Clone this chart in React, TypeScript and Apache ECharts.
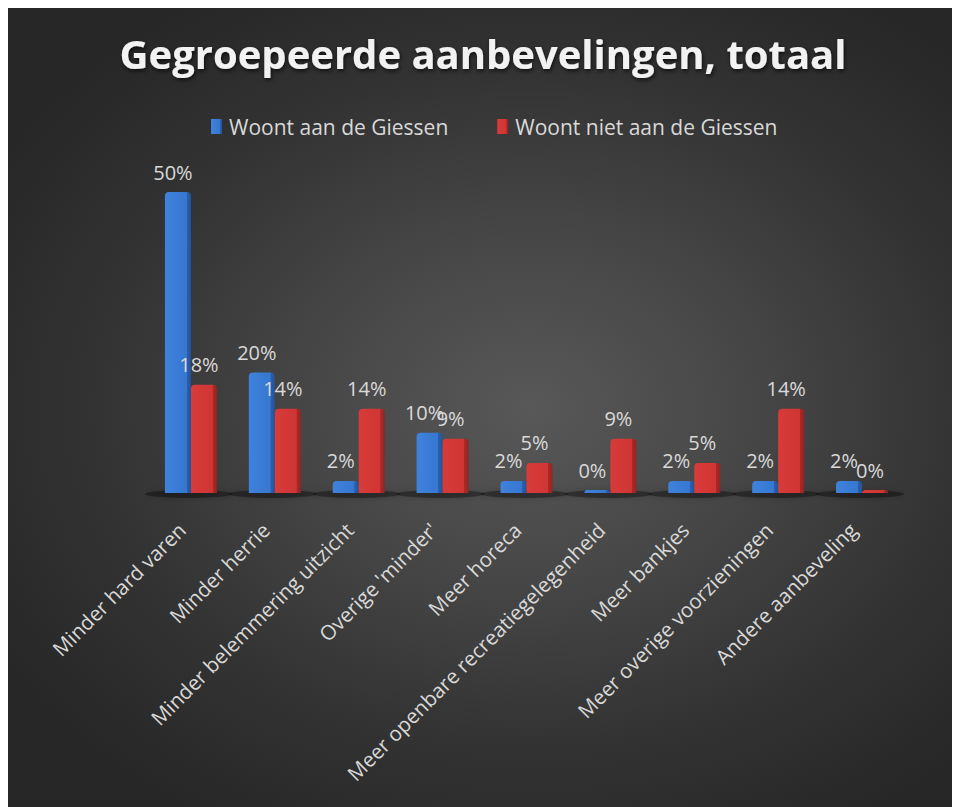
import React, { useEffect, useRef } from "react";
import * as echarts from "echarts";

const titleText = "Gegroepeerde aanbevelingen, totaal";
const seriesNames = ["Woont aan de Giessen", "Woont niet aan de Giessen"];
const categories = [
  "Minder hard varen",
  "Minder herrie",
  "Minder belemmering uitzicht",
  "Overige 'minder'",
  "Meer horeca",
  "Meer openbare recreatiegelegenheid",
  "Meer bankjes",
  "Meer overige voorzieningen",
  "Andere aanbeveling",
];
const woontAan = [50, 20, 2, 10, 2, 0, 2, 2, 2];
const woontNiet = [18, 14, 14, 9, 5, 9, 5, 14, 0];

const blueGrad = new echarts.graphic.LinearGradient(0, 0, 1, 0, [
  { offset: 0, color: "#3f82dc" },
  { offset: 0.83, color: "#3677d0" },
  { offset: 0.84, color: "#2a60ad" },
  { offset: 1, color: "#24539a" },
]);
const redGrad = new echarts.graphic.LinearGradient(0, 0, 1, 0, [
  { offset: 0, color: "#d83c3a" },
  { offset: 0.83, color: "#cf3533" },
  { offset: 0.84, color: "#a82a28" },
  { offset: 1, color: "#952322" },
]);

export default function App() {
  const ref = useRef<HTMLDivElement>(null);
  useEffect(() => {
    if (!ref.current) return;
    const chart = echarts.init(ref.current, undefined, { renderer: "svg" });
    const font = "'Open Sans', 'Noto Sans', sans-serif";
    chart.setOption({
      animation: false,
      backgroundColor: "transparent",
      title: {
        text: titleText,
        left: "center",
        top: 20,
        textStyle: {
          color: "#f2f2f2",
          fontSize: 40,
          fontWeight: "bold",
          fontFamily: font,
          textShadowColor: "rgba(0,0,0,0.7)",
          textShadowBlur: 4,
          textShadowOffsetX: 1,
          textShadowOffsetY: 2,
        },
      },
      legend: {
        top: 103,
        left: 198,
        itemGap: 49,
        itemWidth: 11,
        itemHeight: 15,
        icon: "rect",
        data: seriesNames,
        textStyle: { color: "#d9d9d9", fontSize: 21, fontFamily: font, padding: [0, 0, 0, 2] },
      },
      grid: { left: 141, right: 54, top: 184, bottom: 314 },
      xAxis: {
        type: "category",
        data: categories,
        axisLine: { show: false },
        axisTick: { show: false },
        axisLabel: {
          interval: 0,
          rotate: 45,
          margin: 24,
          padding: [0, 13, 0, 0],
          color: "#d9d9d9",
          fontSize: 20.5,
          fontFamily: font,
        },
      },
      yAxis: {
        type: "value",
        min: 0,
        max: 50,
        show: false,
        splitLine: { show: false },
      },
      series: [
        {
          type: "custom",
          silent: true,
          z: 1,
          data: categories.map((_, i) => [i, 0]),
          renderItem: (params: any, api: any) => {
            const p = api.coord([api.value(0), 0]);
            return {
              type: "ellipse",
              shape: { cx: p[0] - 2, cy: p[1] + 1, rx: 44, ry: 4 },
              style: {
                fill: "rgba(0,0,0,0.35)",
                shadowBlur: 6,
                shadowColor: "rgba(0,0,0,0.5)",
              },
            };
          },
        },
        {
          name: seriesNames[0],
          type: "bar",
          data: woontAan,
          barWidth: 26,
          barGap: "0%",
          barMinHeight: 3,
          z: 2,
          itemStyle: { color: blueGrad, borderRadius: [4, 4, 0, 0] },
          label: {
            show: true,
            position: "top",
            distance: 10,
            offset: [-5, 0],
            formatter: "{c}%",
            color: "#d9d9d9",
            fontSize: 20,
            fontFamily: font,
          },
        },
        {
          name: seriesNames[1],
          type: "bar",
          data: woontNiet,
          barWidth: 26,
          barMinHeight: 3,
          z: 2,
          itemStyle: { color: redGrad, borderRadius: [4, 4, 0, 0] },
          label: {
            show: true,
            position: "top",
            distance: 10,
            offset: [-5, 0],
            formatter: "{c}%",
            color: "#d9d9d9",
            fontSize: 20,
            fontFamily: font,
          },
        },
      ],
    });
    return () => chart.dispose();
  }, []);
  return (
    <div
      ref={ref}
      style={{
        width: 950,
        height: 799,
        background:
          "radial-gradient(ellipse 65% 60% at 55% 50%, #585858 0%, #474747 35%, #333333 70%, #272727 100%)",
      }}
    />
  );
}
